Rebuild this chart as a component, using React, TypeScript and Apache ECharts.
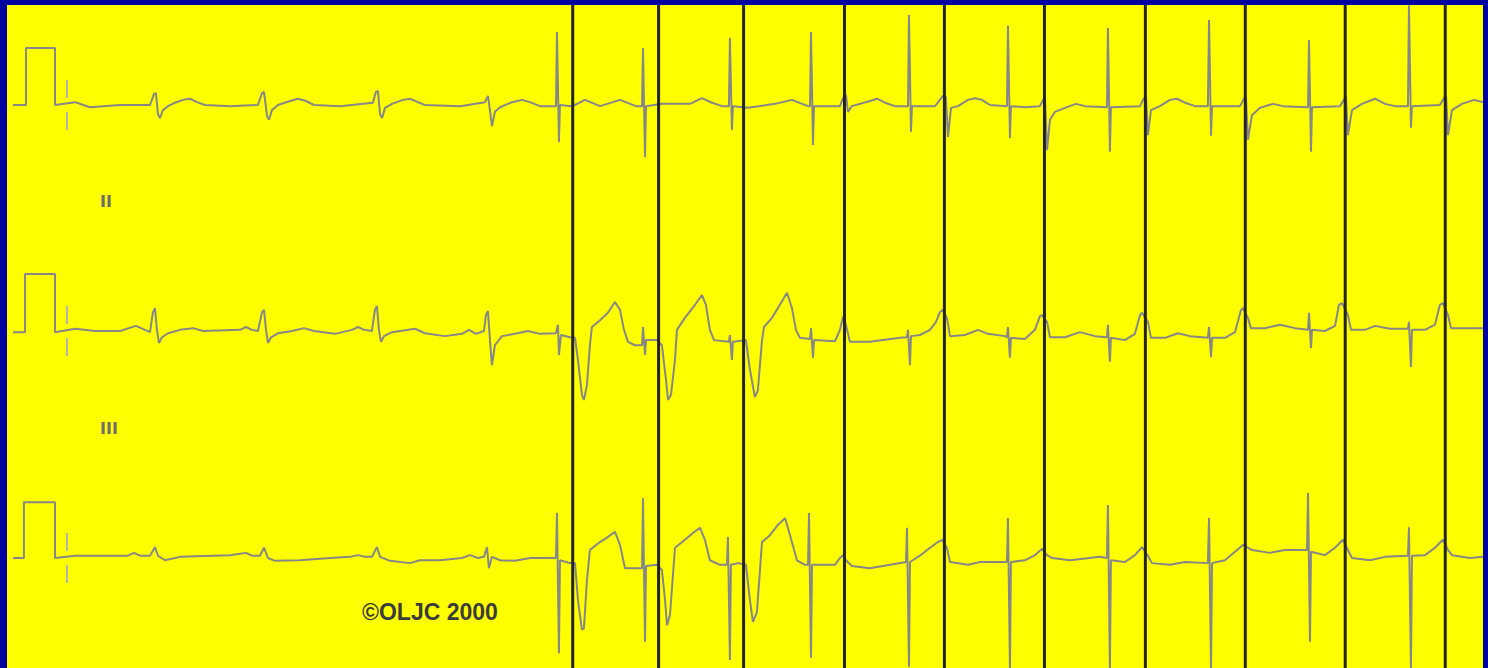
import React, { useEffect, useRef } from "react";
import * as echarts from "echarts";

// ECG strip: time in seconds (25 mm/s), amplitude in mV (10 mm/mV)
const leadI: number[][] = [
  [0,0],[0.092,0],[0.092,1],[0.296,1],[0.296,0],[0.437,0.05],[0.542,-0.04],[0.754,0],[0.965,0],
  [0.993,0.19],[1.007,0.21],[1.021,-0.16],[1.035,-0.23],[1.056,-0.09],[1.092,-0.02],[1.141,0.04],[1.197,0.09],[1.246,0.11],[1.296,0.05],[1.352,0],[1.528,-0.02],
  [1.725,0],[1.754,0.21],[1.768,0.23],[1.789,-0.19],[1.803,-0.26],[1.824,-0.09],[1.866,0],[1.951,0.07],[2.007,0.11],[2.063,0.07],[2.12,0],[2.303,-0.02],
  [2.535,0.04],[2.556,0.23],[2.57,0.25],[2.585,-0.16],[2.599,-0.23],[2.62,-0.05],[2.669,0.02],[2.746,0.09],[2.796,0.11],[2.852,0.05],[2.901,0],[3.148,-0.02],
  [3.324,0.05],[3.345,0.16],[3.359,-0.09],[3.373,-0.37],[3.394,-0.12],[3.43,-0.04],[3.514,0.05],[3.585,0.09],[3.641,0.05],[3.711,-0.02],
  [3.824,-0.02],[3.831,1.28],[3.845,-0.65],[3.852,0],[3.93,-0.02],[3.958,0],[4.028,0.09],[4.134,-0.02],[4.275,0.09],[4.387,-0.02],
  [4.43,-0.02],[4.437,1],[4.451,-0.91],[4.458,-0.02],[4.57,0.02],[4.768,0.02],[4.852,0.12],[4.923,0.04],[4.993,-0.02],
  [5.042,-0.02],[5.049,1.18],[5.063,-0.44],[5.07,-0.02],[5.176,-0.05],[5.366,0.02],[5.486,0.09],[5.599,-0.02],
  [5.613,-0.02],[5.62,1.28],[5.634,-0.7],[5.641,-0.02],[5.824,-0.02],[5.845,0.12],[5.866,0.18],[5.88,-0.12],[5.908,-0.02],[6.035,0.07],[6.085,0.11],[6.141,0.04],[6.211,-0.02],
  [6.303,-0.02],[6.31,1.58],[6.324,-0.47],[6.331,-0.02],[6.493,-0.02],[6.549,0.16],[6.57,0.14],[6.585,-0.56],[6.606,-0.05],[6.655,-0.02],[6.725,0.09],[6.775,0.12],[6.824,0.09],[6.88,0],
  [7,-0.02],[7.007,1.39],[7.021,-0.58],[7.028,-0.02],[7.127,-0.04],[7.232,-0.02],[7.254,0.09],[7.268,0.12],[7.282,-0.79],[7.303,-0.26],[7.338,-0.12],[7.408,-0.05],[7.486,0.02],[7.549,-0.02],
  [7.704,-0.04],[7.711,1.35],[7.725,-0.82],[7.732,-0.04],[7.937,-0.02],[7.958,0.09],[7.979,0.16],[7.993,-0.53],[8.014,-0.09],[8.077,-0.02],[8.148,0.09],[8.197,0.11],[8.254,0.04],[8.324,-0.02],
  [8.415,-0.02],[8.423,1.49],[8.437,-0.54],[8.444,-0.02],[8.641,-0.02],[8.669,0.11],[8.683,0.14],[8.697,-0.61],[8.725,-0.18],[8.782,-0.05],[8.873,0.02],[8.944,-0.02],
  [9.12,-0.04],[9.127,1.14],[9.141,-0.82],[9.148,-0.04],[9.345,-0.02],[9.373,0.09],[9.387,0.16],[9.401,-0.53],[9.43,-0.09],[9.5,0.02],[9.592,0.11],[9.662,0.02],[9.732,-0.02],
  [9.824,-0.02],[9.831,1.75],[9.845,-0.4],[9.852,-0.02],[10.049,0],[10.077,0.12],[10.092,0.16],[10.106,-0.53],[10.134,-0.09],[10.204,0.02],[10.289,0.09],[10.352,0.05],
];

const leadII: number[][] = [
  [0,-0.02],[0.085,-0.02],[0.085,1],[0.296,1],[0.296,-0.02],[0.437,0.04],[0.577,0],[0.754,0],[0.866,0.09],[0.965,-0.02],
  [0.986,0.33],[1.0,0.4],[1.014,0.02],[1.028,-0.21],[1.049,-0.11],[1.092,-0.04],[1.176,0.02],[1.268,0.05],[1.338,0],[1.599,0.02],[1.641,0.07],[1.683,0.02],[1.725,0],
  [1.754,0.33],[1.768,0.37],[1.782,0.02],[1.796,-0.21],[1.817,-0.11],[1.866,-0.04],[1.965,0],[2.049,0.05],[2.12,0],[2.268,-0.05],[2.387,0.02],[2.43,0.07],[2.472,0.02],[2.528,0],
  [2.549,0.37],[2.563,0.44],[2.577,0.02],[2.592,-0.19],[2.613,-0.09],[2.669,-0.02],[2.831,0.04],[2.901,-0.04],[3.042,-0.09],[3.162,-0.05],[3.211,0.02],[3.261,-0.05],[3.317,0],
  [3.331,0.28],[3.345,0.35],[3.359,-0.16],[3.373,-0.6],[3.394,-0.25],[3.444,-0.09],[3.535,-0.05],[3.627,0],[3.711,-0.05],[3.824,-0.04],
  [3.838,0.11],[3.845,-0.42],[3.859,-0.07],[3.923,-0.11],[3.958,-0.12],[3.979,-0.51],[4.007,-1.12],[4.021,-1.21],[4.042,-0.95],[4.063,-0.25],[4.077,0.07],[4.134,0.19],[4.19,0.32],[4.239,0.51],[4.275,0.37],[4.303,0.02],[4.331,-0.19],[4.38,-0.25],
  [4.43,-0.25],[4.437,0.07],[4.451,-0.42],[4.458,-0.16],[4.535,-0.16],[4.57,-0.25],[4.599,-0.86],[4.613,-1.21],[4.634,-1.12],[4.662,-0.51],[4.676,0.02],[4.732,0.23],[4.803,0.46],[4.852,0.63],[4.88,0.46],[4.908,0.02],[4.937,-0.16],
  [5.042,-0.19],[5.049,-0.07],[5.063,-0.51],[5.07,-0.19],[5.162,-0.16],[5.19,-0.68],[5.225,-1.16],[5.246,-1.04],[5.275,-0.16],[5.289,0.07],[5.345,0.23],[5.401,0.46],[5.451,0.67],[5.486,0.4],[5.514,0.02],[5.542,-0.12],
  [5.613,-0.14],[5.62,0.05],[5.634,-0.47],[5.641,-0.16],[5.789,-0.18],[5.824,0.02],[5.845,0.25],[5.866,0.11],[5.894,-0.19],[6.035,-0.19],[6.246,-0.12],
  [6.296,-0.11],[6.303,0.02],[6.317,-0.6],[6.324,-0.09],[6.387,-0.07],[6.458,0.02],[6.5,0.16],[6.528,0.33],[6.549,0.37],[6.577,0.23],[6.599,-0.09],[6.704,-0.07],[6.796,0.02],[6.866,-0.05],[6.986,-0.09],
  [7.0,-0.11],[7.007,0.07],[7.021,-0.47],[7.028,-0.12],[7.127,-0.14],[7.197,0.02],[7.232,0.26],[7.246,0.28],[7.282,0.16],[7.303,-0.11],[7.408,-0.11],[7.514,-0.02],[7.62,-0.09],
  [7.704,-0.11],[7.711,0.11],[7.725,-0.54],[7.732,-0.12],[7.831,-0.16],[7.901,-0.05],[7.937,0.28],[7.951,0.32],[7.993,0.16],[8.014,-0.12],[8.113,-0.12],[8.204,-0.04],[8.289,-0.09],
  [8.415,-0.12],[8.423,0.07],[8.437,-0.46],[8.444,-0.12],[8.535,-0.12],[8.606,-0.02],[8.648,0.37],[8.662,0.4],[8.697,0.23],[8.718,0.05],[8.817,0.05],[8.923,0.11],[9.028,0.05],
  [9.12,0.02],[9.127,0.32],[9.141,-0.3],[9.148,0.02],[9.239,0],[9.31,0.09],[9.338,0.46],[9.359,0.49],[9.401,0.28],[9.423,0.02],[9.521,0.02],[9.592,0.09],[9.697,0.04],
  [9.824,0.04],[9.831,0.16],[9.845,-0.63],[9.852,0.02],[9.944,0.02],[10.014,0.11],[10.049,0.46],[10.07,0.49],[10.106,0.28],[10.127,0.05],[10.352,0.05],
];

const leadIII: number[][] = [
  [0,0],[0.077,0],[0.077,0.98],[0.296,0.98],[0.296,0],[0.437,0.04],[0.683,0.04],[0.81,0.04],[0.852,0.09],[0.894,0.04],[0.965,0.04],
  [1.0,0.19],[1.021,0.04],[1.07,-0.04],[1.176,0.02],[1.528,0.05],[1.641,0.09],[1.683,0.04],[1.739,0.04],
  [1.768,0.18],[1.796,0],[1.845,-0.05],[2.021,-0.04],[2.232,0],[2.373,0.02],[2.43,0.05],[2.479,0.02],[2.528,0.02],
  [2.563,0.19],[2.585,0.02],[2.655,-0.05],[2.796,-0.09],[2.866,-0.04],[3.007,-0.04],[3.162,0],[3.218,0.05],[3.275,0],[3.317,0.02],
  [3.338,0.19],[3.352,-0.18],[3.373,0.02],[3.43,-0.04],[3.535,-0.05],[3.641,0],[3.81,0],[3.824,0],
  [3.831,0.79],[3.845,-1.67],[3.852,-0.04],[3.923,-0.09],[3.958,-0.09],[3.979,-0.74],[4.007,-1.26],[4.021,-1.23],[4.042,-0.39],[4.063,0.14],[4.134,0.28],[4.19,0.37],[4.239,0.46],[4.275,0.23],[4.31,-0.18],[4.423,-0.18],
  [4.43,-0.18],[4.437,1.05],[4.451,-1.47],[4.458,-0.14],[4.535,-0.12],[4.57,-0.21],[4.592,-0.74],[4.606,-1.18],[4.627,-1.0],[4.662,0.18],[4.732,0.32],[4.789,0.44],[4.838,0.53],[4.873,0.32],[4.908,-0.04],[4.979,-0.12],
  [5.028,-0.12],[5.035,0.37],[5.049,-1.79],[5.056,-0.12],[5.106,-0.09],[5.162,-0.12],[5.19,-0.74],[5.211,-1.12],[5.239,-0.95],[5.275,0.28],[5.331,0.4],[5.387,0.58],[5.437,0.7],[5.472,0.4],[5.521,-0.04],[5.577,-0.12],
  [5.599,-0.12],[5.606,0.79],[5.62,-1.75],[5.627,-0.12],[5.789,-0.12],[5.824,0],[5.845,0.05],[5.866,-0.04],[5.908,-0.14],[6.035,-0.18],[6.176,-0.12],
  [6.289,-0.07],[6.296,0.53],[6.31,-1.91],[6.317,-0.07],[6.387,0.04],[6.458,0.18],[6.514,0.28],[6.542,0.32],[6.577,0.18],[6.599,-0.07],[6.725,-0.12],[6.81,-0.07],[6.986,-0.07],
  [7.0,-0.07],[7.007,0.7],[7.021,-1.93],[7.028,-0.07],[7.127,-0.04],[7.197,0.05],[7.246,0.16],[7.282,0.05],[7.317,0],[7.444,-0.04],[7.655,0.02],
  [7.704,0],[7.711,0.93],[7.725,-1.93],[7.732,-0.04],[7.831,-0.07],[7.901,0.05],[7.951,0.19],[7.993,0.04],[8.021,-0.09],[8.148,-0.12],[8.254,-0.07],
  [8.415,-0.09],[8.423,0.7],[8.437,-1.93],[8.444,-0.09],[8.535,-0.04],[8.606,0.11],[8.662,0.23],[8.697,0.18],[8.725,0.14],[8.852,0.09],[8.958,0.14],
  [9.113,0.14],[9.12,1.14],[9.134,-1.47],[9.141,0.11],[9.239,0.05],[9.31,0.18],[9.366,0.32],[9.401,0.14],[9.43,0],[9.556,-0.04],[9.662,0.02],
  [9.824,0.04],[9.831,0.54],[9.845,-1.93],[9.852,0.04],[9.944,0.05],[10.014,0.18],[10.07,0.32],[10.106,0.14],[10.134,0.05],[10.261,0],[10.352,0.02],
];

// pacemaker artifacts crossing all three leads (s)
const paceTimes: number[] = [3.944, 4.549, 5.148, 5.859, 6.563, 7.268, 7.979, 8.683, 9.387, 10.092];

// small vertical marker after the calibration pulse (s, mV ranges)
const calMarkTime = 0.38;
const calMarkSegments: number[][] = [[0.12, 0.44], [-0.12, -0.44]];

const leadNames: string[] = ["", "II", "III"];
const copyrightText = "©OLJC 2000";

const X_MIN = -0.042;
const X_MAX = 10.358;

export default function App() {
  const ref = useRef<HTMLDivElement | null>(null);

  useEffect(() => {
    document.body.style.margin = "0";
    document.body.style.background = "#0000a0";
    if (!ref.current) return;
    const chart = echarts.init(ref.current, undefined, { renderer: "svg" });

    const leadLayouts = [
      { data: leadI, top: 5.25, height: 213.75, min: -2, max: 1.75 },
      { data: leadII, top: 217, height: 228, min: -2, max: 2 },
      { data: leadIII, top: 444, height: 224.01, min: -1.93, max: 2 },
    ];

    const grids: any[] = leadLayouts.map((l) => ({
      left: 7,
      width: 1476.8,
      top: l.top,
      height: l.height,
      show: false,
    }));
    grids.push({
      left: 7,
      width: 1476,
      top: 5,
      bottom: 0,
      show: true,
      backgroundColor: "#ffff00",
      borderWidth: 0,
    });

    const xAxes = grids.map((_, i) => ({
      type: "value",
      gridIndex: i,
      min: X_MIN,
      max: X_MAX,
      show: false,
    }));
    const yAxes: any[] = leadLayouts.map((l, i) => ({
      type: "value",
      gridIndex: i,
      min: l.min,
      max: l.max,
      show: false,
    }));
    yAxes.push({ type: "value", gridIndex: 3, min: 0, max: 1, show: false });

    const series: any[] = [];
    leadLayouts.forEach((l, i) => {
      series.push({
        type: "line",
        name: leadNames[i] || "I",
        xAxisIndex: i,
        yAxisIndex: i,
        data: l.data,
        showSymbol: false,
        symbol: "none",
        silent: true,
        z: 3,
        lineStyle: { color: "#878787", width: 2 },
      });
      series.push({
        type: "custom",
        xAxisIndex: i,
        yAxisIndex: i,
        silent: true,
        z: 3,
        data: calMarkSegments.map((s) => [calMarkTime, s[0], s[1]]),
        encode: { x: 0, y: [1, 2] },
        renderItem: (_p: any, api: any) => {
          const a = api.coord([api.value(0), api.value(1)]);
          const b = api.coord([api.value(0), api.value(2)]);
          return {
            type: "line",
            shape: { x1: a[0], y1: a[1], x2: b[0], y2: b[1] },
            style: { stroke: "#b2b2b2", lineWidth: 2 },
          };
        },
      });
    });
    series.push({
      type: "custom",
      xAxisIndex: 3,
      yAxisIndex: 3,
      silent: true,
      z: 5,
      data: paceTimes.map((t) => [t]),
      encode: { x: 0 },
      renderItem: (_p: any, api: any) => {
        const a = api.coord([api.value(0), 0]);
        const b = api.coord([api.value(0), 1]);
        return {
          type: "line",
          shape: { x1: a[0], y1: a[1], x2: b[0], y2: b[1] },
          style: { stroke: "#242424", lineWidth: 3 },
        };
      },
    });

    chart.setOption({
      animation: false,
      backgroundColor: "#0000a0",
      grid: grids,
      xAxis: xAxes,
      yAxis: yAxes,
      series,
      graphic: [
        {
          type: "text",
          x: 100,
          y: 201,
          z: 10,
          style: {
            text: leadNames[1],
            fill: "#6e6e6e",
            font: 'bold 16px "DejaVu Sans"',
            textAlign: "left",
            textVerticalAlign: "middle",
          },
        },
        {
          type: "text",
          x: 100,
          y: 428,
          z: 10,
          style: {
            text: leadNames[2],
            fill: "#6e6e6e",
            font: 'bold 16px "DejaVu Sans"',
            textAlign: "left",
            textVerticalAlign: "middle",
          },
        },
        {
          type: "text",
          x: 362,
          y: 612,
          z: 10,
          style: {
            text: copyrightText,
            fill: "#3c3c3c",
            font: 'bold 23px "Liberation Sans"',
            textAlign: "left",
            textVerticalAlign: "middle",
          },
        },
      ],
    });

    return () => {
      chart.dispose();
    };
  }, []);

  return (
    <div
      ref={ref}
      style={{ position: "absolute", left: 0, top: 0, width: 1488, height: 668 }}
    />
  );
}
